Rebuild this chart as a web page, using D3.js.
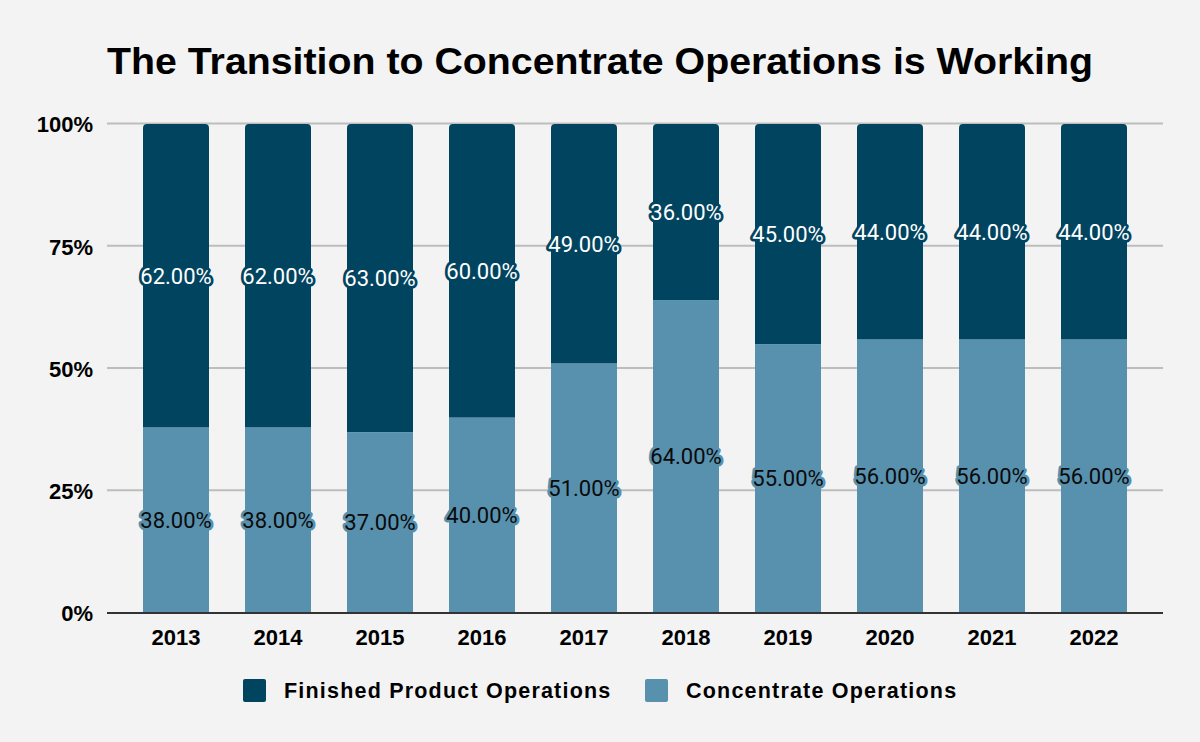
<!DOCTYPE html>
<html><head><meta charset="utf-8">
<script src="https://cdn.jsdelivr.net/npm/d3@7"></script>
<style>
html,body{margin:0;padding:0;background:#f3f3f3;}
svg{display:block;}
</style></head>
<body>
<svg id="chart" width="1200" height="742"></svg>
<script>
const title = "The Transition to Concentrate Operations is Working";
const years = ["2013","2014","2015","2016","2017","2018","2019","2020","2021","2022"];
const concentrate = [38,38,37,40,51,64,55,56,56,56];
const finished = [62,62,63,60,49,36,45,44,44,44];
const seriesNames = ["Finished Product Operations","Concentrate Operations"];
const colors = {finished:"#01445f", concentrate:"#5891ae"};
const yTicks = [0,25,50,75,100];

const svg = d3.select("#chart");
const W = 1200, H = 742;
const SANS = "'Liberation Sans', Arial, sans-serif";
svg.append("rect").attr("width",W).attr("height",H).attr("fill","#f3f3f3");

const x = d3.scaleBand().domain(years).range([107,1163]).padding(0.353);
const y = d3.scaleLinear().domain([0,100]).range([613,124]);

const t = svg.append("text").attr("x",600).attr("y",74).attr("text-anchor","middle")
  .attr("font-family",SANS).attr("font-weight","bold").attr("font-size",37.5)
  .attr("fill","#000").text(title);
t.attr("textLength",986).attr("lengthAdjust","spacingAndGlyphs");

// gridlines
svg.append("g").selectAll("line").data(yTicks.filter(d=>d>0)).join("line")
  .attr("x1",107).attr("x2",1163).attr("y1",d=>y(d)-0.5).attr("y2",d=>y(d)-0.5)
  .attr("stroke","#bdbdbd").attr("stroke-width",2);

// y tick labels
const yAxis = d3.axisLeft(y).tickValues(yTicks).tickFormat(d=>d+"%").tickSize(0).tickPadding(14);
const yg = svg.append("g").attr("transform","translate(107,0)").call(yAxis);
yg.select(".domain").remove();
yg.selectAll("text").attr("font-family",SANS).attr("font-weight","bold").attr("font-size",22).attr("fill","#000").attr("dy","0.36em");

const data = years.map((yr,i)=>({yr, c:concentrate[i], f:finished[i]}));

// concentrate bars
svg.append("g").selectAll("rect").data(data).join("rect")
  .attr("x",d=>x(d.yr)).attr("width",x.bandwidth())
  .attr("y",d=>y(d.c)).attr("height",d=>y(0)-y(d.c))
  .attr("fill",colors.concentrate);

// finished bars with rounded top
const r = 4;
svg.append("g").selectAll("path").data(data).join("path")
  .attr("d",d=>{
    const x0=x(d.yr), x1=x0+x.bandwidth(), yt=y(d.c+d.f), yb=y(d.c);
    return `M${x0},${yb}L${x0},${yt+r}Q${x0},${yt} ${x0+r},${yt}L${x1-r},${yt}Q${x1},${yt} ${x1},${yt+r}L${x1},${yb}Z`;
  })
  .attr("fill",colors.finished);

// axis baseline
svg.append("line").attr("x1",107).attr("x2",1163).attr("y1",y(0)).attr("y2",y(0))
  .attr("stroke","#333").attr("stroke-width",2);

// x labels
const xAxis = d3.axisBottom(x).tickSize(0).tickPadding(16);
const xg = svg.append("g").attr("transform",`translate(0,${y(0)})`).call(xAxis);
xg.select(".domain").remove();
xg.selectAll("text").attr("font-family",SANS).attr("font-weight","bold").attr("font-size",22).attr("fill","#000");

// data labels
function labels(acc, mid, fill, halo){
  svg.append("g").selectAll("text").data(data).join("text")
    .attr("x",d=>x(d.yr)+x.bandwidth()/2)
    .attr("y",d=>y(mid(d)))
    .attr("dy","0.36em")
    .attr("text-anchor","middle")
    .attr("font-family","Roboto").attr("font-size",22)
    .attr("fill",fill).attr("stroke",halo).attr("stroke-width",5.5)
    .attr("stroke-linejoin","round").attr("paint-order","stroke")
    .text(d=>acc(d).toFixed(2)+"%");
}
labels(d=>d.c, d=>d.c/2, "#0a0a0a", colors.concentrate);
labels(d=>d.f, d=>d.c+d.f/2, "#ffffff", colors.finished);

// legend
const legend = [
  {name:seriesNames[0], color:colors.finished, x:243},
  {name:seriesNames[1], color:colors.concentrate, x:645}
];
const lg = svg.append("g").selectAll("g").data(legend).join("g")
  .attr("transform",d=>`translate(${d.x},679)`);
lg.append("rect").attr("width",23).attr("height",23).attr("rx",2).attr("fill",d=>d.color);
lg.append("text").attr("x",41).attr("y",11.5).attr("dy","0.36em")
  .attr("font-family",SANS).attr("font-weight","bold").attr("font-size",21.5)
  .attr("letter-spacing",1.2).attr("fill","#000").text(d=>d.name);
</script>
</body></html>
